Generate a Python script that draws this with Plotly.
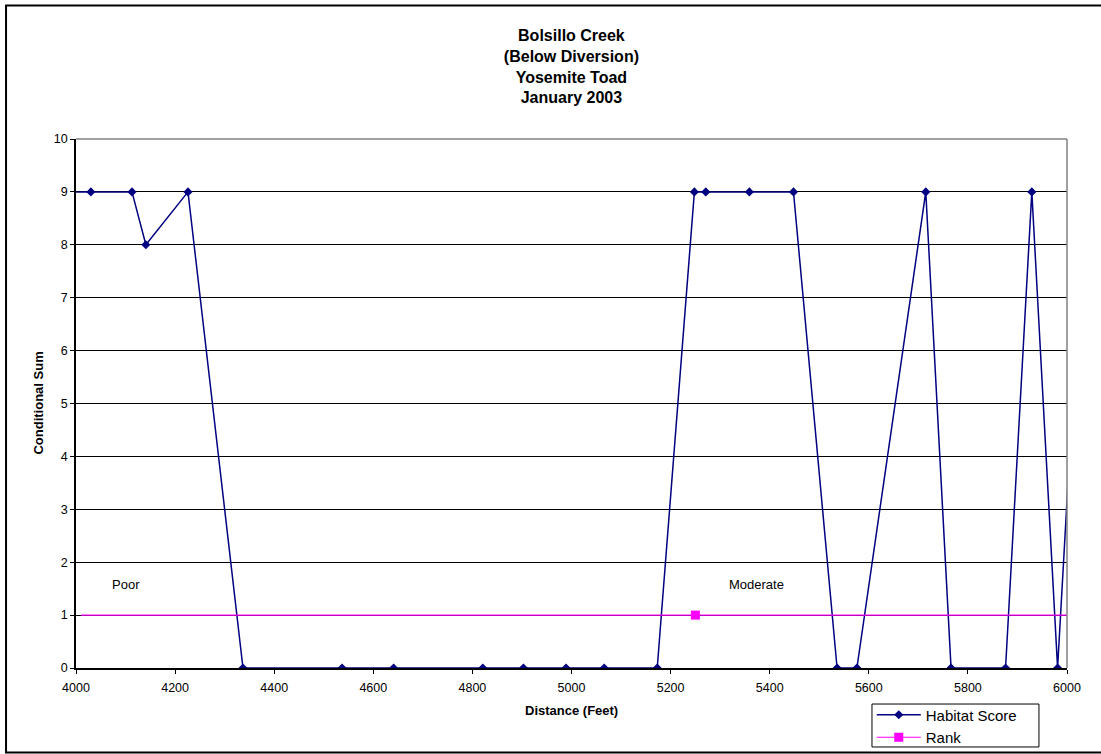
import plotly.graph_objects as go

# Habitat score survey along Bolsillo Creek (below diversion)
distance_ft = [3985, 4030, 4113, 4141, 4226, 4337, 4537, 4641, 4821, 4903, 4989,
               5066, 5173, 5248, 5271, 5359, 5448, 5536, 5576, 5715, 5766,
               5876, 5929, 5981, 6035]
habitat_score = [9, 9, 9, 8, 9, 0, 0, 0, 0, 0, 0,
                 0, 0, 9, 9, 9, 9, 0, 0, 9, 0,
                 0, 9, 0, 9]

# Rank threshold line and its single marked point
rank_level = 1
rank_line_x = [4010, 6020]
rank_point_x = [5250]

x_ticks = [4000, 4200, 4400, 4600, 4800, 5000, 5200, 5400, 5600, 5800, 6000]
y_ticks = [0, 1, 2, 3, 4, 5, 6, 7, 8, 9, 10]

rank_labels = ["Poor", "Moderate"]
rank_label_x = [4068, 5313]
rank_label_y = 1.58

FONT = "Arial, 'Liberation Sans', sans-serif"
NAVY = "#000080"
MAGENTA = "#FF00FF"

fig = go.Figure()

fig.add_trace(go.Scatter(
    x=distance_ft, y=habitat_score, mode="lines+markers", name="Habitat Score",
    line=dict(color=NAVY, width=1.5),
    marker=dict(symbol="diamond", size=7, color=NAVY),
))

fig.add_trace(go.Scatter(
    x=rank_line_x, y=[rank_level] * len(rank_line_x), mode="lines",
    line=dict(color=MAGENTA, width=1.2), showlegend=False, hoverinfo="skip",
))

fig.add_trace(go.Scatter(
    x=rank_point_x, y=[rank_level] * len(rank_point_x), mode="lines+markers",
    name="Rank", line=dict(color=MAGENTA, width=1.2),
    marker=dict(symbol="square", size=9, color=MAGENTA),
))

for txt, xv in zip(rank_labels, rank_label_x):
    fig.add_annotation(x=xv, y=rank_label_y, text=txt, showarrow=False,
                       xanchor="left", yanchor="middle",
                       font=dict(family=FONT, size=13, color="black"))

# axis titles
fig.add_annotation(x=-0.0383, y=0.5, xref="paper", yref="paper",
                   text="<b>Conditional Sum</b>", textangle=-90, showarrow=False,
                   xanchor="center", yanchor="middle",
                   font=dict(family=FONT, size=13, color="black"))
fig.add_annotation(x=0.5, y=-0.0794, xref="paper", yref="paper",
                   text="<b>Distance (Feet)</b>", showarrow=False,
                   xanchor="center", yanchor="middle",
                   font=dict(family=FONT, size=13, color="black"))

shapes = [
    # plot-area border (top and right)
    dict(type="line", xref="paper", yref="paper", x0=0, x1=1, y0=1, y1=1,
         line=dict(color="#808080", width=1.5), layer="above"),
    dict(type="line", xref="paper", yref="paper", x0=1, x1=1, y0=0, y1=1,
         line=dict(color="#808080", width=1.5), layer="above"),
    # chart frame
    dict(type="rect", xref="paper", yref="paper", x0=-0.0706, x1=1.045,
         y0=-0.1597, y1=1.2524, line=dict(color="black", width=2), layer="below"),
    # legend box
    dict(type="rect", xref="paper", yref="paper", x0=0.8032, x1=0.9717,
         y0=-0.1493, y1=-0.0681, line=dict(color="black", width=1),
         fillcolor="white", layer="below"),
]

fig.update_layout(
    width=1101, height=754,
    margin=dict(l=76, r=34, t=139, b=86, autoexpand=False),
    paper_bgcolor="white", plot_bgcolor="white",
    title=dict(
        text="<b>Bolsillo Creek<br>(Below Diversion)<br>Yosemite Toad<br>January 2003</b>",
        x=0.519, xanchor="center", y=1 - 41 / 754, yanchor="top", yref="container",
        font=dict(family=FONT, size=16, color="black"),
    ),
    font=dict(family=FONT, color="black"),
    xaxis=dict(range=[4000, 6000], tickvals=x_ticks, ticks="outside", ticklen=4,
               tickcolor="black", showgrid=False, zeroline=False,
               showline=True, linecolor="black", linewidth=1.5,
               ticklabelstandoff=3,
               tickfont=dict(family=FONT, size=12.5, color="black")),
    yaxis=dict(range=[0, 10], tickvals=y_ticks, ticks="outside", ticklen=4,
               tickcolor="black", showgrid=True, gridcolor="black", gridwidth=1,
               zeroline=False, showline=True, linecolor="black", linewidth=1.5,
               tickfont=dict(family=FONT, size=12.5, color="black")),
    legend=dict(x=0.803, xref="paper", y=1 - 698.5 / 754, yref="container",
                xanchor="left", yanchor="top",
                borderwidth=0, bgcolor="rgba(0,0,0,0)",
                font=dict(family=FONT, size=15, color="black"),
                tracegroupgap=0, itemwidth=44),
    shapes=shapes,
    showlegend=True,
)

fig.write_html("out.html")
